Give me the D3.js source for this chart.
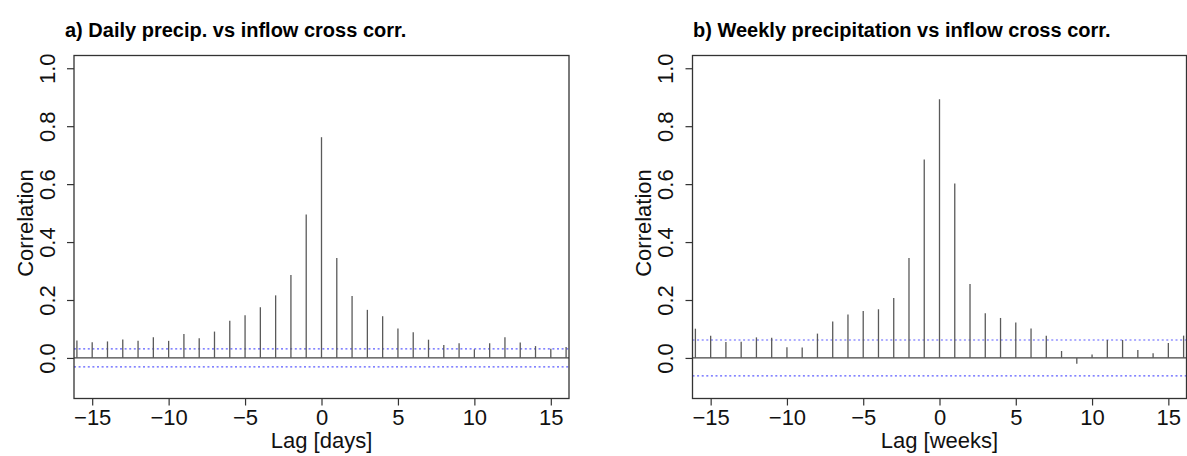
<!DOCTYPE html>
<html>
<head>
<meta charset="utf-8">
<script src="https://cdn.jsdelivr.net/npm/d3@7"></script>
<style>
  html, body { margin: 0; padding: 0; background: #fff; }
  svg { display: block; font-family: "Liberation Sans", Arial, sans-serif; }
</style>
</head>
<body>
<svg id="chart" width="1187" height="456"></svg>
<script>
// Lags shared by both cross-correlation panels
const lags = [-16, -15, -14, -13, -12, -11, -10, -9, -8, -7, -6, -5, -4, -3, -2, -1,
              0, 1, 2, 3, 4, 5, 6, 7, 8, 9, 10, 11, 12, 13, 14, 15, 16];

// Daily precipitation vs inflow cross-correlation
const dailyCorr = [0.060, 0.054, 0.057, 0.064, 0.059, 0.071, 0.059, 0.083, 0.068, 0.091,
                   0.128, 0.147, 0.175, 0.216, 0.286, 0.495, 0.762, 0.345, 0.214, 0.166,
                   0.144, 0.102, 0.089, 0.063, 0.045, 0.051, 0.030, 0.051, 0.071, 0.053,
                   0.041, 0.032, 0.038];
const dailyBound = 0.031;

// Weekly precipitation vs inflow cross-correlation
const weeklyCorr = [0.101, 0.077, 0.055, 0.056, 0.071, 0.070, 0.037, 0.036, 0.084, 0.126,
                    0.150, 0.162, 0.168, 0.207, 0.345, 0.685, 0.893, 0.602, 0.255, 0.154,
                    0.138, 0.122, 0.102, 0.077, 0.024, -0.020, 0.012, 0.062, 0.062, 0.027,
                    0.016, 0.052, 0.077];
const weeklyBound = 0.062;

const xTicks = [-15, -10, -5, 0, 5, 10, 15];
const yTicks = [0, 0.2, 0.4, 0.6, 0.8, 1.0];

const titles = ["a) Daily precip. vs inflow cross corr.",
                "b) Weekly precipitation vs inflow cross corr."];
const xLabels = ["Lag [days]", "Lag [weeks]"];
const yLabel = "Correlation";

const svg = d3.select("#chart");

const panels = [
  { values: dailyCorr, bound: dailyBound, title: titles[0], xLabel: xLabels[0],
    left: 74, right: 569, titleX: 65 },
  { values: weeklyCorr, bound: weeklyBound, title: titles[1], xLabel: xLabels[1],
    left: 692.5, right: 1186.5, titleX: 693 }
];

const plotTop = 55.5, plotBottom = 398.5;
const boxColor = "#333";

panels.forEach(p => {
  const g = svg.append("g");
  const x = d3.scaleLinear().domain([-16.19, 16.19]).range([p.left, p.right]);
  const y = d3.scaleLinear().domain([-0.14, 1.044]).range([plotBottom, plotTop]);

  // confidence bounds (dotted blue)
  [p.bound, -p.bound].forEach(b => {
    g.append("line")
      .attr("x1", p.left).attr("x2", p.right)
      .attr("y1", y(b)).attr("y2", y(b))
      .attr("stroke", "#5c5cff").attr("stroke-width", 1.2)
      .attr("stroke-dasharray", "2,2.6");
  });

  // zero line
  g.append("line")
    .attr("x1", p.left).attr("x2", p.right)
    .attr("y1", y(0)).attr("y2", y(0))
    .attr("stroke", "#444").attr("stroke-width", 1.2);

  // correlation spikes
  g.selectAll("line.spike")
    .data(lags.map((l, i) => ({ lag: l, v: p.values[i] })))
    .join("line")
    .attr("class", "spike")
    .attr("x1", d => x(d.lag)).attr("x2", d => x(d.lag))
    .attr("y1", y(0)).attr("y2", d => y(d.v))
    .attr("stroke", "#5a5a5a").attr("stroke-width", 1.3);

  // plot box
  g.append("rect")
    .attr("x", p.left).attr("y", plotTop)
    .attr("width", p.right - p.left).attr("height", plotBottom - plotTop)
    .attr("fill", "none").attr("stroke", boxColor).attr("stroke-width", 1.3);

  // x axis
  const xAxis = g.append("g")
    .attr("transform", `translate(0,${plotBottom})`)
    .call(d3.axisBottom(x).tickValues(xTicks).tickSize(7).tickSizeOuter(0).tickPadding(4));
  xAxis.select(".domain").remove();
  xAxis.selectAll(".tick line").attr("stroke", boxColor).attr("stroke-width", 1.2);
  xAxis.selectAll(".tick text")
    .attr("font-size", 22).attr("fill", "#111")
    .attr("font-family", "'Liberation Sans', Arial, sans-serif")
    .attr("dy", null).attr("y", 26.5);

  // y axis with rotated tick labels
  const yAxis = g.append("g")
    .attr("transform", `translate(${p.left},0)`)
    .call(d3.axisLeft(y).tickValues(yTicks).tickSize(7).tickSizeOuter(0).tickFormat(d3.format(".1f")));
  yAxis.select(".domain").remove();
  yAxis.selectAll(".tick line").attr("stroke", boxColor).attr("stroke-width", 1.2);
  yAxis.selectAll(".tick text")
    .attr("font-size", 22).attr("fill", "#111")
    .attr("font-family", "'Liberation Sans', Arial, sans-serif")
    .attr("x", null).attr("dy", null)
    .attr("text-anchor", "middle")
    .attr("transform", "translate(-19.5,0) rotate(-90)");

  // axis titles
  g.append("text")
    .attr("x", (p.left + p.right) / 2).attr("y", 448)
    .attr("text-anchor", "middle").attr("font-size", 22).attr("fill", "#111")
    .text(p.xLabel);
  g.append("text")
    .attr("transform", `translate(${p.left - 41.5},${(plotTop + plotBottom) / 2 - 4}) rotate(-90)`)
    .attr("text-anchor", "middle").attr("font-size", 22).attr("fill", "#111")
    .text(yLabel);

  // panel title
  g.append("text")
    .attr("x", p.titleX).attr("y", 36.5)
    .attr("font-size", 20).attr("font-weight", "bold").attr("fill", "#000")
    .text(p.title);
});
</script>
</body>
</html>
